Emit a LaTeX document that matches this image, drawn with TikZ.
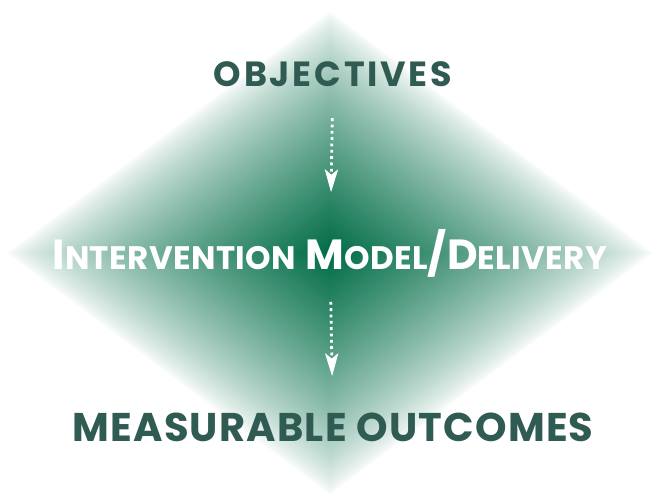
\documentclass[tikz,border=0pt]{standalone}
\usepackage{fontspec}
\setmainfont{Poppins}
\usetikzlibrary{arrows.meta, positioning}

\definecolor{deepgreen}{RGB}{0,108,70}
\definecolor{titlegreen}{RGB}{47,91,82}

% small caps by hand: first letter large, rest smaller
\newcommand{\capword}[2]{{\fontsize{24}{28}\selectfont #1}{\fontsize{18.5}{22}\selectfont #2}}

\begin{document}
\begin{tikzpicture}[
        x=0.02cm, y=-0.02cm,
        title/.style={text=titlegreen, inner sep=0pt, text depth=0pt},
        middle/.style={font=\fontsize{24}{28}\selectfont\bfseries\addfontfeatures{LetterSpace=1.2}, text=white, inner sep=0pt, text height=17pt, text depth=0pt},
        flow/.style={white, dotted, line width=1.6pt, -{Stealth[length=13pt, width=7.5pt, inset=3pt]}}
    ]
        \useasboundingbox (0,0) rectangle (658,497);

        % diamond fading from the centre to white
        \foreach \i in {0,...,120} {
            \pgfmathsetmacro\s{1-\i/120}
            \pgfmathsetmacro\p{100*(\i/120)^0.75}
            \fill[deepgreen!\p!white] (330-325*\s,253) -- (330,253-243*\s) -- (330+325*\s,253) -- (330,253+243*\s) -- cycle;
        }

        \node[title, text height=13.6pt, font=\fontsize{19.9}{24}\selectfont\bfseries\addfontfeatures{LetterSpace=8}] (obj) at (333,75) {OBJECTIVES};
        \node[middle] (model) at (330,255) {\capword{I}{NTERVENTION} \capword{M}{ODEL}/\capword{D}{ELIVERY}};
        \node[title, text height=15.6pt, font=\fontsize{22.8}{27}\selectfont\bfseries\addfontfeatures{LetterSpace=3}] (outc) at (333,428) {MEASURABLE OUTCOMES};

        % flow between the three stages
        \draw[flow, shorten <=17.6pt, shorten >=27pt] (obj) -- (model);
        \draw[flow, shorten <=18pt, shorten >=21.5pt] (model) -- (outc);

    \end{tikzpicture}
\end{document}
